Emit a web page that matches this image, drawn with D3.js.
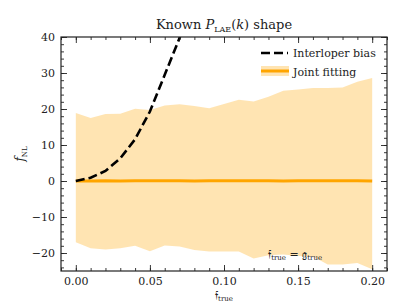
<!DOCTYPE html>
<html>
<head>
<script src="https://d3js.org/d3.v7.min.js"></script>
<style>
  body { margin: 0; background: #fff; }
  svg text { font-family: "DejaVu Serif", serif !important; fill: #222; }
</style>
</head>
<body>
<div id="chart"></div>
<script>
// values
const fTrue = [0.00, 0.01, 0.02, 0.03, 0.04, 0.05, 0.06, 0.07, 0.08, 0.09, 0.10,
               0.11, 0.12, 0.13, 0.14, 0.15, 0.16, 0.17, 0.18, 0.19, 0.20];
const jointMid = [0.0, 0.0, 0.1, 0.0, 0.1, 0.1, 0.1, 0.1, 0.0, 0.1, 0.1,
                  0.1, 0.1, 0.1, 0.0, 0.1, 0.1, 0.1, 0.1, 0.1, 0.0];
const jointUpper = [18.9, 17.5, 18.6, 18.7, 20.1, 19.7, 21.0, 21.3, 20.8, 20.2, 21.4,
                    22.6, 22.1, 23.4, 25.1, 25.4, 25.8, 25.8, 26.0, 27.6, 28.6];
const jointLower = [-17.0, -18.7, -19.0, -18.7, -18.0, -19.5, -17.9, -18.2, -19.2, -19.6, -19.6,
                    -19.6, -21.5, -20.6, -20.4, -20.8, -21.0, -23.2, -23.2, -22.8, -24.5];
const biasX = [0.00, 0.01, 0.02, 0.03, 0.04, 0.05, 0.06, 0.07, 0.08];
const biasY = [0.0, 0.9, 2.8, 6.3, 11.6, 19.3, 29.5, 39.7, 52.0];
const xTicks = [0.00, 0.05, 0.10, 0.15, 0.20];
const yTicks = [-20, -10, 0, 10, 20, 30, 40];

const W = 407, H = 305;
const margin = { top: 37, right: 20, bottom: 34, left: 61 };
const w = W - margin.left - margin.right;
const h = H - margin.top - margin.bottom;

const svg = d3.select("#chart").append("svg")
    .attr("width", W).attr("height", H);

const g = svg.append("g")
    .attr("transform", `translate(${margin.left},${margin.top})`);

const x = d3.scaleLinear().domain([-0.01, 0.21]).range([0, w]);
const y = d3.scaleLinear().domain([-25, 40]).range([h, 0]);

g.append("clipPath").attr("id", "clip")
  .append("rect").attr("width", w).attr("height", h);

const plot = g.append("g").attr("clip-path", "url(#clip)");

// joint fitting band
const band = fTrue.map((d, i) => ({ x: d, lo: jointLower[i], hi: jointUpper[i], mid: jointMid[i] }));
plot.append("path")
    .datum(band)
    .attr("fill", "orange")
    .attr("fill-opacity", 0.3)
    .attr("d", d3.area().x(d => x(d.x)).y0(d => y(d.lo)).y1(d => y(d.hi)));

plot.append("path")
    .datum(band)
    .attr("fill", "none")
    .attr("stroke", "orange")
    .attr("stroke-width", 3)
    .attr("d", d3.line().x(d => x(d.x)).y(d => y(d.mid)));

// interloper bias
plot.append("path")
    .datum(biasX.map((d, i) => ({ x: d, y: biasY[i] })))
    .attr("fill", "none")
    .attr("stroke", "black")
    .attr("stroke-width", 2.6)
    .attr("stroke-dasharray", "9,4")
    .attr("d", d3.line().x(d => x(d.x)).y(d => y(d.y)));

// axes, ticks inward on all sides
const xMinor = d3.range(-0.01, 0.2101, 0.01);
const yMinor = d3.range(-24, 40.1, 2);

function ticks(sel, axisFn, scale, vals, size, labels) {
  const a = axisFn(scale).tickValues(vals).tickSizeInner(-size).tickSizeOuter(0).tickPadding(6);
  if (!labels) a.tickFormat("");
  sel.call(a);
  sel.attr("font-family", null);
  sel.select(".domain").remove();
  sel.selectAll("line").attr("stroke", "#222").attr("stroke-width", 0.9);
}

ticks(g.append("g").attr("transform", `translate(0,${h})`), d3.axisBottom, x, xMinor, 3, false);
ticks(g.append("g"), d3.axisTop, x, xMinor, 3, false);
ticks(g.append("g"), d3.axisLeft, y, yMinor, 3, false);
ticks(g.append("g").attr("transform", `translate(${w},0)`), d3.axisRight, y, yMinor, 3, false);

const xb = g.append("g").attr("transform", `translate(0,${h})`);
ticks(xb, d3.axisBottom, x, xTicks, 6, true);
xb.selectAll("text").attr("font-size", 11).attr("dy", "0.75em")
  .text(d => d3.format(".2f")(d));
ticks(g.append("g"), d3.axisTop, x, xTicks, 6, false);
const yl = g.append("g");
ticks(yl, d3.axisLeft, y, yTicks, 6, true);
yl.selectAll("text").attr("font-size", 11)
  .text(d => d < 0 ? "\u2212" + Math.abs(d) : d);
ticks(g.append("g").attr("transform", `translate(${w},0)`), d3.axisRight, y, yTicks, 6, false);

g.append("rect")
    .attr("width", w).attr("height", h)
    .attr("fill", "none").attr("stroke", "#222").attr("stroke-width", 1.2);

// title
const title = svg.append("text")
    .attr("x", margin.left + w / 2).attr("y", 29)
    .attr("text-anchor", "middle").attr("font-size", 13);
title.append("tspan").text("Known ");
title.append("tspan").attr("font-style", "italic").text("P");
title.append("tspan").attr("font-size", 8).attr("dy", 3).text("LAE");
title.append("tspan").attr("dy", -3).text("(");
title.append("tspan").attr("font-style", "italic").text("k");
title.append("tspan").text(") shape");

// axis labels
const ylab = svg.append("text")
    .attr("transform", `translate(24,${margin.top + h / 2}) rotate(-90)`)
    .attr("text-anchor", "middle").attr("font-size", 12);
ylab.append("tspan").attr("font-style", "italic").text("f");
ylab.append("tspan").attr("font-size", 7).attr("dy", 3).text("NL");

const xlab = svg.append("text")
    .attr("x", margin.left + w / 2).attr("y", 299)
    .attr("text-anchor", "middle").attr("font-size", 11);
xlab.append("tspan").text("\uD835\uDD23");
xlab.append("tspan").attr("font-size", 7).attr("dy", 2).text("true");

// annotation
const ann = g.append("text")
    .attr("x", x(0.148)).attr("y", y(-21.4))
    .attr("text-anchor", "middle").attr("font-size", 11);
ann.append("tspan").text("\uD835\uDD23");
ann.append("tspan").attr("font-size", 7).attr("dy", 2).text("true");
ann.append("tspan").attr("dy", -2).text(" = \uD835\uDD24");
ann.append("tspan").attr("font-size", 7).attr("dy", 2).text("true");

// legend
const leg = svg.append("g").attr("transform", "translate(261,53)");
leg.append("line").attr("x1", 0).attr("x2", 27).attr("y1", 0).attr("y2", 0)
    .attr("stroke", "black").attr("stroke-width", 2.6).attr("stroke-dasharray", "9,4");
leg.append("text").attr("x", 32).attr("y", 4).attr("font-size", 11).text("Interloper bias");
leg.append("rect").attr("x", 0).attr("y", 13).attr("width", 28).attr("height", 10)
    .attr("fill", "orange").attr("fill-opacity", 0.3);
leg.append("line").attr("x1", 0).attr("x2", 28).attr("y1", 18).attr("y2", 18)
    .attr("stroke", "orange").attr("stroke-width", 3);
leg.append("text").attr("x", 32).attr("y", 22.5).attr("font-size", 11).text("Joint fitting");
</script>
</body>
</html>
